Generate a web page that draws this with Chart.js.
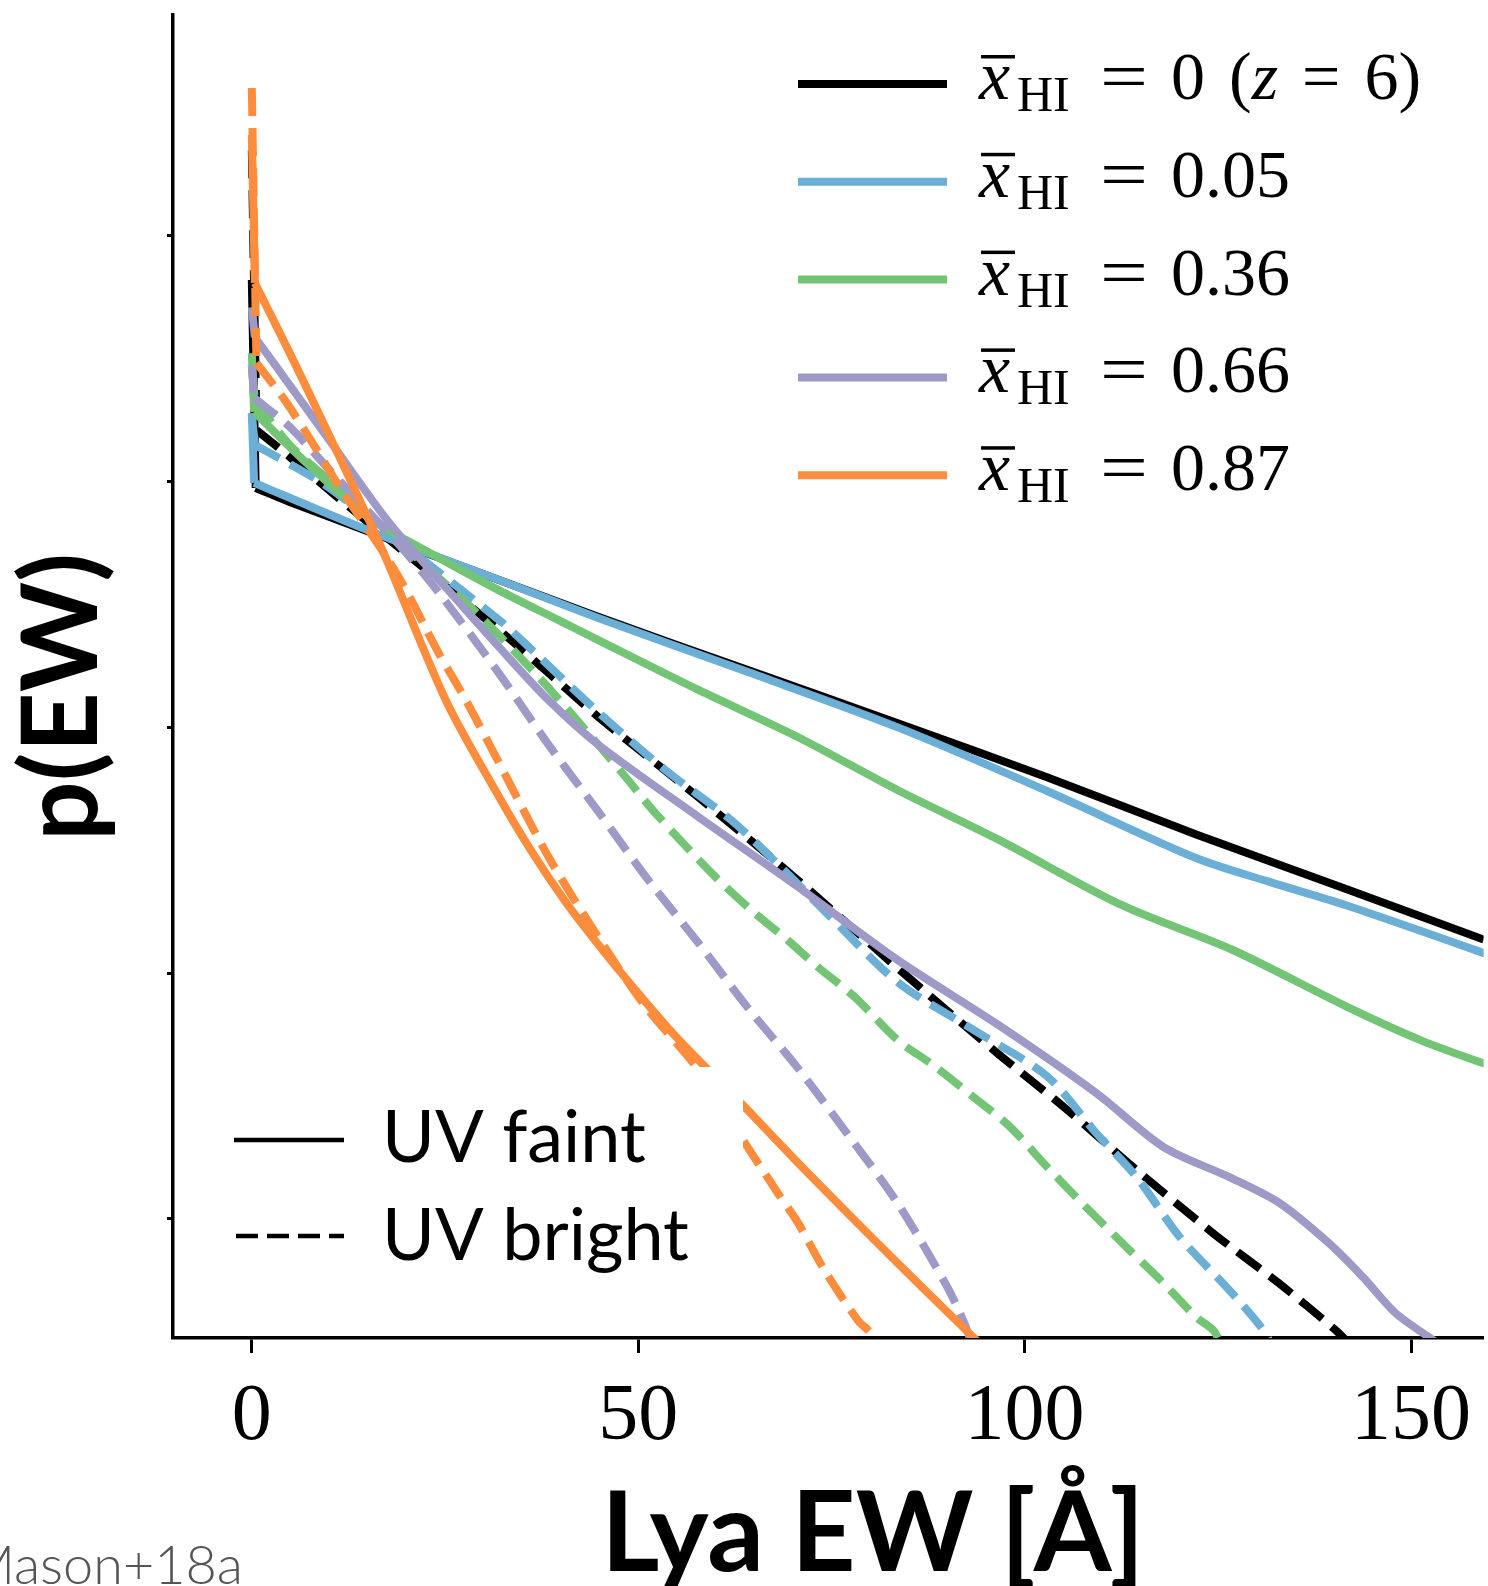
<!DOCTYPE html>
<html>
<head>
<meta charset="utf-8">
<title>p(EW) vs Lya EW</title>
<script src="https://cdn.jsdelivr.net/npm/chart.js@4.4.1/dist/chart.umd.min.js"></script>
<style>
  html, body { margin: 0; padding: 0; background: #fff; }
  #wrap { width: 1488px; height: 1586px; }
</style>
</head>
<body>
<div id="wrap"><canvas id="ew-chart" width="1488" height="1586"></canvas></div>
<script>
// EW [A] and p(EW), one pair of arrays per curve
const ewBlackFaint = [0, 0.5, 4.9, 15.6, 32.0, 44.9, 64.2, 83.6, 102.9, 122.2, 141.6, 159.4, 161];
const pBlackFaint = [6.61e-2, 9.42e-3, 8.26e-3, 6.18e-3, 3.98e-3, 2.81e-3, 1.71e-3, 1.04e-3, 6.27e-4, 3.67e-4, 2.20e-4, 1.37e-4, 1.32e-4];

const ewBlackBright = [0, 0.6, 4.9, 10.44, 31.98, 38.43, 44.87, 57.77, 70.66, 83.56, 96.46, 105.1, 114.5, 124.4, 132.9, 140.3, 142.2];
const pBlackBright = [2.23e-1, 1.62e-2, 1.26e-2, 8.98e-3, 2.49e-3, 1.66e-3, 1.10e-3, 5.20e-4, 2.39e-4, 1.05e-4, 4.73e-5, 2.85e-5, 1.58e-5, 8.75e-6, 5.48e-6, 3.52e-6, 3.06e-6];

const ewBlueFaint = [0, 0.3, 4.9, 15.6, 32.0, 44.9, 64.2, 83.6, 102.9, 122.2, 131.9, 141.6, 159.0, 161];
const pBlueFaint = [1.90e-2, 9.89e-3, 8.59e-3, 6.24e-3, 3.98e-3, 2.78e-3, 1.68e-3, 1.00e-3, 5.51e-4, 2.94e-4, 2.34e-4, 1.89e-4, 1.22e-4, 1.15e-4];

const ewBlueBright = [0, 0.4, 8.38, 12.64, 31.98, 36.23, 44.87, 53.51, 62.02, 68.47, 74.92, 83.56, 93.23, 102.9, 109.3, 114.5, 120.1, 126.5, 130.9, 131.9];
const pBlueBright = [1.87e-2, 1.41e-2, 1.02e-2, 8.18e-3, 2.74e-3, 2.07e-3, 1.15e-3, 6.71e-4, 4.20e-4, 2.70e-4, 1.69e-4, 9.20e-5, 5.92e-5, 3.81e-5, 2.23e-5, 1.48e-5, 8.43e-6, 5.13e-6, 3.53e-6, 3.07e-6];

const ewGreenFaint = [0, 0.3, 7.1, 15.6, 21.7, 32.0, 39.7, 44.9, 57.8, 70.7, 83.6, 96.5, 112.6, 127.0, 141.6, 151.3, 159.0, 161];
const pGreenFaint = [3.33e-2, 1.92e-2, 1.19e-2, 6.97e-3, 5.41e-3, 3.61e-3, 2.73e-3, 2.26e-3, 1.42e-3, 9.12e-4, 5.55e-4, 3.51e-4, 1.89e-4, 1.24e-4, 7.33e-5, 5.33e-5, 4.34e-5, 4.17e-5];

const ewGreenBright = [0, 0.4, 4.9, 10.44, 15.6, 21.66, 29.4, 37.14, 43.2, 48.36, 52.22, 59.96, 64.6, 69.37, 73.24, 78.01, 83.56, 88.33, 93.23, 98.0, 102.9, 107.67, 113.6, 117.99, 122.24, 124.44, 125.47];
const pGreenBright = [2.92e-2, 2.15e-2, 1.41e-2, 9.86e-3, 7.11e-3, 4.80e-3, 2.86e-3, 1.60e-3, 9.75e-4, 6.28e-4, 4.48e-4, 2.47e-4, 1.81e-4, 1.36e-4, 1.06e-4, 8.00e-5, 5.35e-5, 4.19e-5, 3.16e-5, 2.39e-5, 1.63e-5, 1.14e-5, 7.46e-6, 5.48e-6, 3.98e-6, 3.52e-6, 3.06e-6];

const ewPurpleFaint = [0, 0.4, 4.9, 10.4, 17.8, 25.5, 32.0, 38.4, 44.9, 57.8, 70.7, 83.6, 96.5, 109.3, 118.0, 126.5, 133.0, 139.4, 143.8, 148.0, 152.3, 156];
const pPurpleFaint = [5.12e-2, 3.86e-2, 2.47e-2, 1.42e-2, 6.78e-3, 3.59e-3, 2.12e-3, 1.29e-3, 8.47e-4, 4.32e-4, 2.24e-4, 1.13e-4, 6.19e-5, 3.25e-5, 1.96e-5, 1.48e-5, 1.16e-5, 7.96e-6, 5.79e-6, 4.14e-6, 3.31e-6, 2.75e-6];

const ewPurpleBright = [0, 0.3, 4.9, 10.44, 19.08, 24.24, 31.98, 38.43, 44.87, 51.32, 57.77, 64.22, 70.66, 77.11, 83.56, 90.01, 92.2, 93.23];
const pPurpleBright = [2.97e-2, 2.19e-2, 1.67e-2, 1.08e-2, 5.52e-3, 3.52e-3, 1.66e-3, 8.47e-4, 4.53e-4, 2.39e-4, 1.33e-4, 7.21e-5, 4.11e-5, 2.21e-5, 1.16e-5, 5.28e-6, 3.77e-6, 3.07e-6];

const ewOrangeFaint = [0, 0.4, 6.6, 16.5, 25.1, 32.0, 36.2, 40.6, 44.9, 49.1, 54.8, 63.3, 70.7, 79.3, 85.8, 93.5, 94.5];
const pOrangeFaint = [2.57e-1, 6.43e-2, 2.59e-2, 5.62e-3, 1.29e-3, 5.21e-4, 3.13e-4, 1.95e-4, 1.30e-4, 8.95e-5, 5.55e-5, 2.96e-5, 1.69e-5, 9.00e-6, 5.64e-6, 3.27e-6, 3.04e-6];

const ewOrangeBright = [0, 0.6, 4.51, 8.38, 11.35, 18.7, 24.2, 27.7, 32.0, 38.4, 44.9, 50.9, 57.8, 63.8, 68.1, 70.7, 74.1, 78.4, 80.1, 81.0];
const pOrangeBright = [3.99e-1, 3.04e-2, 2.09e-2, 1.35e-2, 9.51e-3, 4.25e-3, 2.00e-3, 1.29e-3, 7.16e-4, 2.97e-4, 1.39e-4, 7.35e-5, 4.04e-5, 2.04e-5, 1.27e-5, 9.62e-6, 6.19e-6, 3.88e-6, 3.44e-6, 3.07e-6];

const xTicks = [0, 50, 100, 150];
const yTicks = [1e-5, 1e-4, 1e-3, 1e-2, 1e-1];

const xhiColors = ['#000000', '#6baed6', '#74c476', '#9e9ac8', '#fd8d3c'];
const xhiValues = ['0 (z = 6)', '0.05', '0.36', '0.66', '0.87'];
const uvLabels = ['UV faint', 'UV bright'];

const dash = [28, 12];

// each curve = the EW=0 spike (straight) + the smooth tail
function curve(ew, p, color, dashed, order) {
    const pts = ew.map((x, i) => ({ x: x, y: p[i] }));
    const common = {
        borderColor: color,
        borderWidth: 8,
        borderDash: dashed ? dash : [],
        pointRadius: 0,
        fill: false,
        clip: 0,
        order: order
    };
    return [
        Object.assign({}, common, { data: pts.slice(0, 2), tension: 0 }),
        Object.assign({}, common, { data: pts.slice(1), tension: 0.3 })
    ];
}

// legends and axis titles, drawn on top of the plot
const annotate = {
    id: 'annotate',
    afterDraw(chart) {
        const ctx = chart.ctx;
        ctx.save();
        ctx.textAlign = 'left';
        ctx.textBaseline = 'alphabetic';

        // xHI legend (top right)
        xhiValues.forEach((val, i) => {
            const ly = 84 + 97.8 * i;
            const base = ly + 15;
            ctx.strokeStyle = xhiColors[i];
            ctx.lineWidth = 8;
            ctx.beginPath();
            ctx.moveTo(798, ly);
            ctx.lineTo(947, ly);
            ctx.stroke();

            ctx.fillStyle = '#000';
            ctx.font = 'italic 70px "Liberation Serif"';
            ctx.fillText('x', 979, base);
            ctx.fillRect(981, base - 44, 34, 3.5);
            ctx.font = '50px "Liberation Serif"';
            ctx.fillText('HI', 1017, base + 12);
            ctx.save();
            ctx.translate(1100, base);
            ctx.scale(1.25, 1);
            ctx.font = '68px "Liberation Serif"';
            ctx.fillText('=', 0, 0);
            ctx.restore();

            let x = 1171;
            for (const ch of val) {
                if (ch === ' ') { x += 24; continue; }
                ctx.font = (/[a-z]/.test(ch) ? 'italic ' : '') + '68px "Liberation Serif"';
                ctx.fillText(ch, x, base);
                x += ctx.measureText(ch).width;
            }
        });

        // UV legend (bottom left), white frame hides lines below it
        ctx.fillStyle = '#fff';
        ctx.fillRect(200, 1067, 543, 255);
        ctx.strokeStyle = '#000';
        ctx.lineWidth = 4.5;
        ctx.beginPath();
        ctx.moveTo(234, 1140);
        ctx.lineTo(344, 1140);
        ctx.stroke();
        ctx.setLineDash([22, 9]);
        ctx.beginPath();
        ctx.moveTo(236, 1236);
        ctx.lineTo(344, 1236);
        ctx.stroke();
        ctx.setLineDash([]);
        ctx.fillStyle = '#000';
        ctx.font = '72px Lato';
        ctx.fillText(uvLabels[0], 382, 1162);
        ctx.fillText(uvLabels[1], 382, 1260);

        // axis titles
        ctx.textAlign = 'center';
        ctx.font = 'bold 112px Lato';
        ctx.fillText('Lya EW [Å]', 873, 1571);
        ctx.save();
        ctx.translate(97, 697);
        ctx.rotate(-Math.PI / 2);
        ctx.font = 'bold 105px Lato';
        ctx.fillText('p(EW)', 0, 0);
        ctx.restore();

        // credit
        ctx.textAlign = 'right';
        ctx.fillStyle = '#555';
        ctx.font = '300 54px Lato';
        ctx.fillText('Mason+18a', 243, 1584);
        ctx.restore();
    }
};

const ctx = document.getElementById('ew-chart');
new Chart(ctx, {
    type: 'line',
    data: {
        datasets: [].concat(
            curve(ewOrangeFaint, pOrangeFaint, xhiColors[4], false, 0),
            curve(ewOrangeBright, pOrangeBright, xhiColors[4], true, 1),
            curve(ewPurpleFaint, pPurpleFaint, xhiColors[3], false, 2),
            curve(ewPurpleBright, pPurpleBright, xhiColors[3], true, 3),
            curve(ewGreenFaint, pGreenFaint, xhiColors[2], false, 4),
            curve(ewGreenBright, pGreenBright, xhiColors[2], true, 5),
            curve(ewBlueFaint, pBlueFaint, xhiColors[1], false, 6),
            curve(ewBlueBright, pBlueBright, xhiColors[1], true, 7),
            curve(ewBlackFaint, pBlackFaint, xhiColors[0], false, 8),
            curve(ewBlackBright, pBlackBright, xhiColors[0], true, 9)
        )
    },
    options: {
        responsive: false,
        animation: false,
        devicePixelRatio: 1,
        layout: { padding: { top: 15, left: 0, right: 0, bottom: 0 } },
        plugins: {
            legend: { display: false },
            tooltip: { enabled: false }
        },
        scales: {
            x: {
                type: 'linear',
                position: 'bottom',
                min: -10.2,
                max: 159.4,
                z: 1,
                afterFit: (scale) => { scale.height = 248; },
                afterBuildTicks: (scale) => { scale.ticks = xTicks.map(v => ({ value: v })); },
                ticks: {
                    font: { family: '"Liberation Serif"', size: 80 },
                    color: '#000',
                    padding: 17,
                    maxRotation: 0,
                    autoSkip: false
                },
                grid: {
                    display: true,
                    drawOnChartArea: false,
                    drawTicks: true,
                    tickLength: 15,
                    tickWidth: 3,
                    tickColor: '#000'
                },
                border: { display: true, color: '#000', width: 3.5 }
            },
            y: {
                type: 'logarithmic',
                position: 'left',
                min: 3.28e-6,
                max: 0.791,
                z: 1,
                afterFit: (scale) => { scale.width = 173; },
                afterBuildTicks: (scale) => { scale.ticks = yTicks.map(v => ({ value: v })); },
                ticks: { display: false },
                grid: {
                    display: true,
                    drawOnChartArea: false,
                    drawTicks: true,
                    tickLength: 6,
                    tickWidth: 3,
                    tickColor: '#000'
                },
                border: { display: true, color: '#000', width: 3.5 }
            }
        }
    },
    plugins: [annotate]
});
</script>
</body>
</html>
